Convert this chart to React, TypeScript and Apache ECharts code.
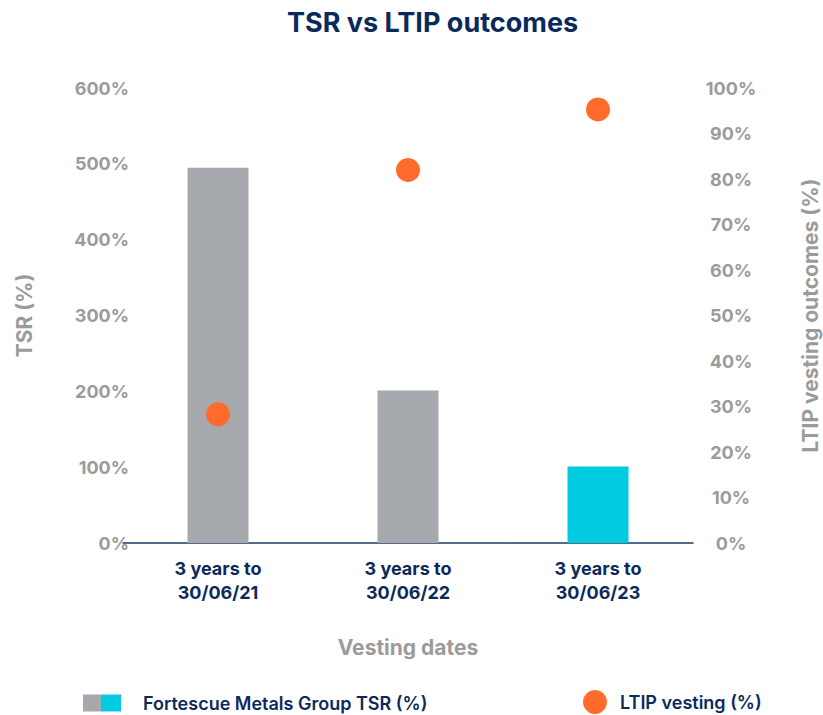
import React, { useEffect, useRef } from "react";
import * as echarts from "echarts";

const categories = ["3 years to\n30/06/21", "3 years to\n30/06/22", "3 years to\n30/06/23"];
const tsrValues = [495, 201, 101];
const ltipValues = [28.3, 82, 95.3];
const leftTicks = [0, 600, 100];
const rightTicks = [0, 100, 10];

const NAVY = "#0B2A5C";
const GRAY_TEXT = "#9B9B9B";
const BAR_GRAY = "#A5A9AD";
const BAR_CYAN = "#00CBE0";
const ORANGE = "#FF6B2C";
const FONT = "Inter, 'Noto Sans', sans-serif";

export default function App() {
  const ref = useRef<HTMLDivElement>(null);
  useEffect(() => {
    if (!ref.current) return;
    const chart = echarts.init(ref.current, null, { renderer: "svg" });
    const lastIdx = categories.length - 1;
    chart.setOption({
      animation: false,
      textStyle: { fontFamily: FONT },
      title: {
        text: "TSR vs LTIP outcomes",
        left: 282,
        top: 4,
        textStyle: { color: NAVY, fontSize: 27, fontWeight: "bold", fontFamily: FONT },
      },
      grid: { left: 123, right: 130, top: 88, bottom: 172, containLabel: false, outerBoundsMode: "none" },
      legend: [
        {
          left: 83,
          top: 694,
          padding: 0,
          itemWidth: 38,
          itemHeight: 17,
          textStyle: { color: NAVY, fontSize: 18, fontWeight: 600, fontFamily: FONT, padding: [0, 0, 0, 17] },
          data: [
            {
              name: "Fortescue Metals Group TSR (%)",
              icon: "rect",
              itemStyle: {
                color: {
                  type: "linear", x: 0, y: 0, x2: 1, y2: 0,
                  colorStops: [
                    { offset: 0, color: BAR_GRAY },
                    { offset: 0.48, color: BAR_GRAY },
                    { offset: 0.48, color: BAR_CYAN },
                    { offset: 1, color: BAR_CYAN },
                  ],
                },
              },
            },
          ],
        },
        {
          left: 583,
          top: 690,
          padding: 0,
          itemWidth: 24,
          itemHeight: 24,
          textStyle: { color: NAVY, fontSize: 18, fontWeight: 600, fontFamily: FONT, padding: [0, 0, 0, 8] },
          data: [{ name: "LTIP vesting (%)", icon: "circle" }],
        },
      ],
      xAxis: {
        type: "category",
        data: categories,
        name: "Vesting dates",
        nameLocation: "middle",
        nameGap: 94,
        nameTextStyle: { color: GRAY_TEXT, fontSize: 21, fontWeight: "bold", fontFamily: FONT },
        axisLine: { show: true, lineStyle: { color: "#1F3864", width: 1.5 } },
        axisTick: { show: false },
        axisLabel: { color: NAVY, fontSize: 18, fontWeight: "bold", lineHeight: 24, margin: 13, fontFamily: FONT },
        splitLine: { show: false },
      },
      yAxis: [
        {
          type: "value",
          min: leftTicks[0],
          max: leftTicks[1],
          interval: leftTicks[2],
          name: "TSR (%)",
          nameLocation: "middle",
          nameRotate: 90,
          nameGap: 88,
          nameTextStyle: { color: GRAY_TEXT, fontSize: 21, fontWeight: "bold", fontFamily: FONT },
          axisLine: { show: false },
          axisTick: { show: false },
          splitLine: { show: false },
          axisLabel: { formatter: "{value}%", color: GRAY_TEXT, fontSize: 18, fontWeight: "bold", margin: -6, fontFamily: FONT },
        },
        {
          type: "value",
          position: "right",
          min: rightTicks[0],
          max: rightTicks[1],
          interval: rightTicks[2],
          name: "LTIP vesting outcomes (%)",
          nameLocation: "middle",
          nameRotate: 90,
          nameGap: 107,
          nameTextStyle: { color: GRAY_TEXT, fontSize: 21, fontWeight: "bold", fontFamily: FONT },
          axisLine: { show: false },
          axisTick: { show: false },
          splitLine: { show: false },
          axisLabel: { formatter: "{value}%", color: GRAY_TEXT, fontSize: 18, fontWeight: "bold", margin: 38, align: "center", fontFamily: FONT },
        },
      ],
      series: [
        {
          name: "Fortescue Metals Group TSR (%)",
          type: "bar",
          data: tsrValues,
          barWidth: 61,
          itemStyle: {
            color: (p: any) => (p.dataIndex === lastIdx ? BAR_CYAN : BAR_GRAY),
          },
        },
        {
          name: "LTIP vesting (%)",
          type: "scatter",
          yAxisIndex: 1,
          data: ltipValues,
          symbolSize: 24,
          itemStyle: { color: ORANGE, opacity: 1 },
          z: 5,
        },
      ],
    });
    return () => chart.dispose();
  }, []);
  return <div ref={ref} style={{ width: 823, height: 715, position: "absolute", left: 0, top: 0 }} />;
}
